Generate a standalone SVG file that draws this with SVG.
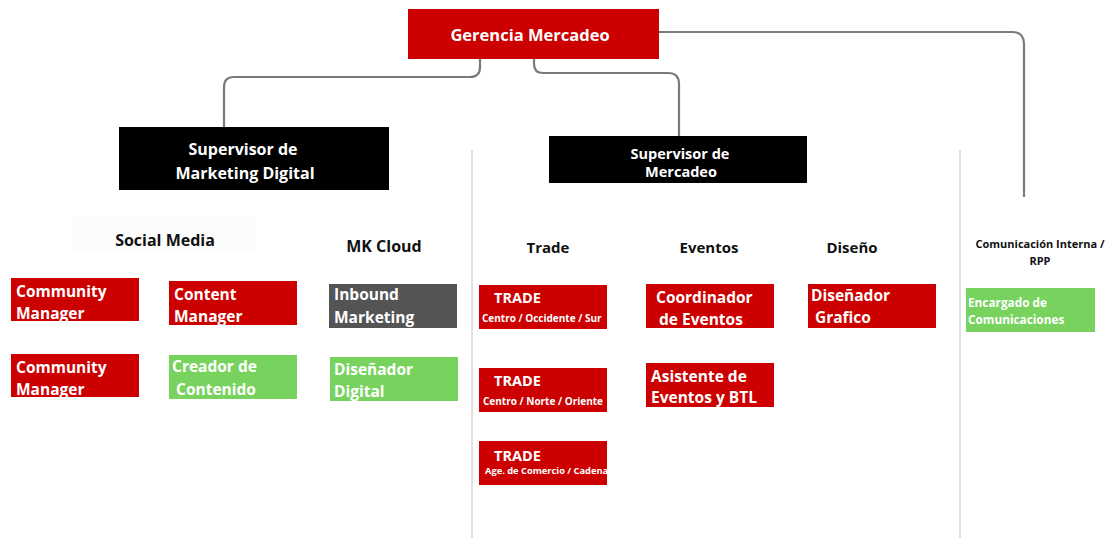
<svg xmlns="http://www.w3.org/2000/svg" width="1116" height="538" viewBox="0 0 1116 538">
<style>
text{font-family:"Open Sans","Liberation Sans",sans-serif;font-weight:700}
.red{fill:#cc0000}
.grn{fill:#77d35e}
.blk{fill:#000}
.gry{fill:#545454}
.w{fill:#fff}
.wc{fill:#fff;text-anchor:middle}
.h{fill:#111;text-anchor:middle}
.b{font-size:15.5px;fill:#fff}
.conn{fill:none;stroke:#7a7a7a;stroke-width:2.2}
.div{stroke:#d4d4d4;stroke-width:1.5}
</style>
<rect width="1116" height="538" fill="#fff"/>
<g id="dividers">
<line class="div" x1="472" y1="150" x2="472" y2="538"/>
<line class="div" x1="960" y1="150" x2="960" y2="538"/>
</g>
<g id="connectors">
<path class="conn" d="M480,59 V67 Q480,77 470,77 H234 Q224,77 224,87 V127"/>
<path class="conn" d="M534,59 V64 Q534,73 543,73 H668 Q679,73 679,84 V136"/>
<path class="conn" d="M659,32 H1012 Q1024,32 1024,44 V197"/>
</g>
<g id="gerencia">
<rect class="red" x="408" y="9" width="251" height="50"/>
<text class="wc" x="530" y="41" font-size="16.5">Gerencia Mercadeo</text>
</g>
<g id="sup-mkt-digital">
<rect class="blk" x="119" y="127" width="270" height="63"/>
<text class="wc" x="243" y="155" font-size="16">Supervisor de</text>
<text class="wc" x="245" y="179" font-size="16">Marketing Digital</text>
</g>
<g id="sup-mercadeo">
<rect class="blk" x="549" y="136" width="258" height="47"/>
<text class="wc" x="680" y="159" font-size="14.5">Supervisor de</text>
<text class="wc" x="681" y="177" font-size="14.5">Mercadeo</text>
</g>
<g id="hdr-social">
<rect x="73" y="217" width="182" height="36" fill="#fdfcfd"/>
<text class="h" x="165" y="246" font-size="16">Social Media</text>
</g>
<g id="hdr-mkcloud"><text class="h" x="384" y="252" font-size="16">MK Cloud</text></g>
<g id="hdr-trade"><text class="h" x="548" y="253" font-size="15">Trade</text></g>
<g id="hdr-eventos"><text class="h" x="709" y="253" font-size="15">Eventos</text></g>
<g id="hdr-diseno"><text class="h" x="852" y="253" font-size="15">Diseño</text></g>
<g id="hdr-com">
<text class="h" x="1040" y="248" font-size="11">Comunicación Interna /</text>
<text class="h" x="1040" y="265" font-size="11">RPP</text>
</g>
<g id="community-1">
<rect class="red" x="11" y="278" width="128" height="43"/>
<text class="b" x="16" y="297">Community</text>
<text class="b" x="16" y="319">Manager</text>
</g>
<g id="content-manager">
<rect class="red" x="169" y="281" width="128" height="44"/>
<text class="b" x="174" y="300">Content</text>
<text class="b" x="174" y="322">Manager</text>
</g>
<g id="community-2">
<rect class="red" x="11" y="354" width="128" height="43"/>
<text class="b" x="16" y="373">Community</text>
<text class="b" x="16" y="395">Manager</text>
</g>
<g id="creador">
<rect class="grn" x="169" y="355" width="128" height="44"/>
<text class="b" x="172" y="372">Creador de</text>
<text class="b" x="176" y="395">Contenido</text>
</g>
<g id="inbound">
<rect class="gry" x="329" y="284" width="128" height="44"/>
<text class="b" x="334" y="300">Inbound</text>
<text class="b" x="334" y="323">Marketing</text>
</g>
<g id="disenador-digital">
<rect class="grn" x="330" y="357" width="128" height="44"/>
<text class="b" x="334" y="375">Diseñador</text>
<text class="b" x="334" y="397">Digital</text>
</g>
<g id="trade-1">
<rect class="red" x="479" y="285" width="128" height="44"/>
<text class="w" x="494" y="303" font-size="14.5">TRADE</text>
<text class="w" x="482" y="322" font-size="10">Centro / Occidente / Sur</text>
</g>
<g id="trade-2">
<rect class="red" x="479" y="368" width="128" height="44"/>
<text class="w" x="494" y="386" font-size="14.5">TRADE</text>
<text class="w" x="483" y="405" font-size="10">Centro / Norte / Oriente</text>
</g>
<g id="trade-3">
<clipPath id="c3"><rect x="479" y="441" width="128" height="44"/></clipPath>
<rect class="red" x="479" y="441" width="128" height="44"/>
<text class="w" x="494" y="461" font-size="14.5">TRADE</text>
<text class="w" x="485" y="474" font-size="9.3" clip-path="url(#c3)">Age. de Comercio / Cadenas</text>
</g>
<g id="coordinador">
<rect class="red" x="646" y="284" width="128" height="44"/>
<text class="b" x="656" y="303">Coordinador</text>
<text class="b" x="659" y="325">de Eventos</text>
</g>
<g id="asistente">
<rect class="red" x="646" y="363" width="128" height="44"/>
<text class="b" x="651" y="382">Asistente de</text>
<text class="b" x="651" y="403">Eventos y BTL</text>
</g>
<g id="disenador-grafico">
<rect class="red" x="808" y="284" width="128" height="44"/>
<text class="b" x="811" y="301">Diseñador</text>
<text class="b" x="815" y="323">Grafico</text>
</g>
<g id="encargado">
<rect class="grn" x="966" y="288" width="129" height="44"/>
<text class="w" x="968" y="307" font-size="11.8">Encargado de</text>
<text class="w" x="968" y="324" font-size="11.8">Comunicaciones</text>
</g>
</svg>
